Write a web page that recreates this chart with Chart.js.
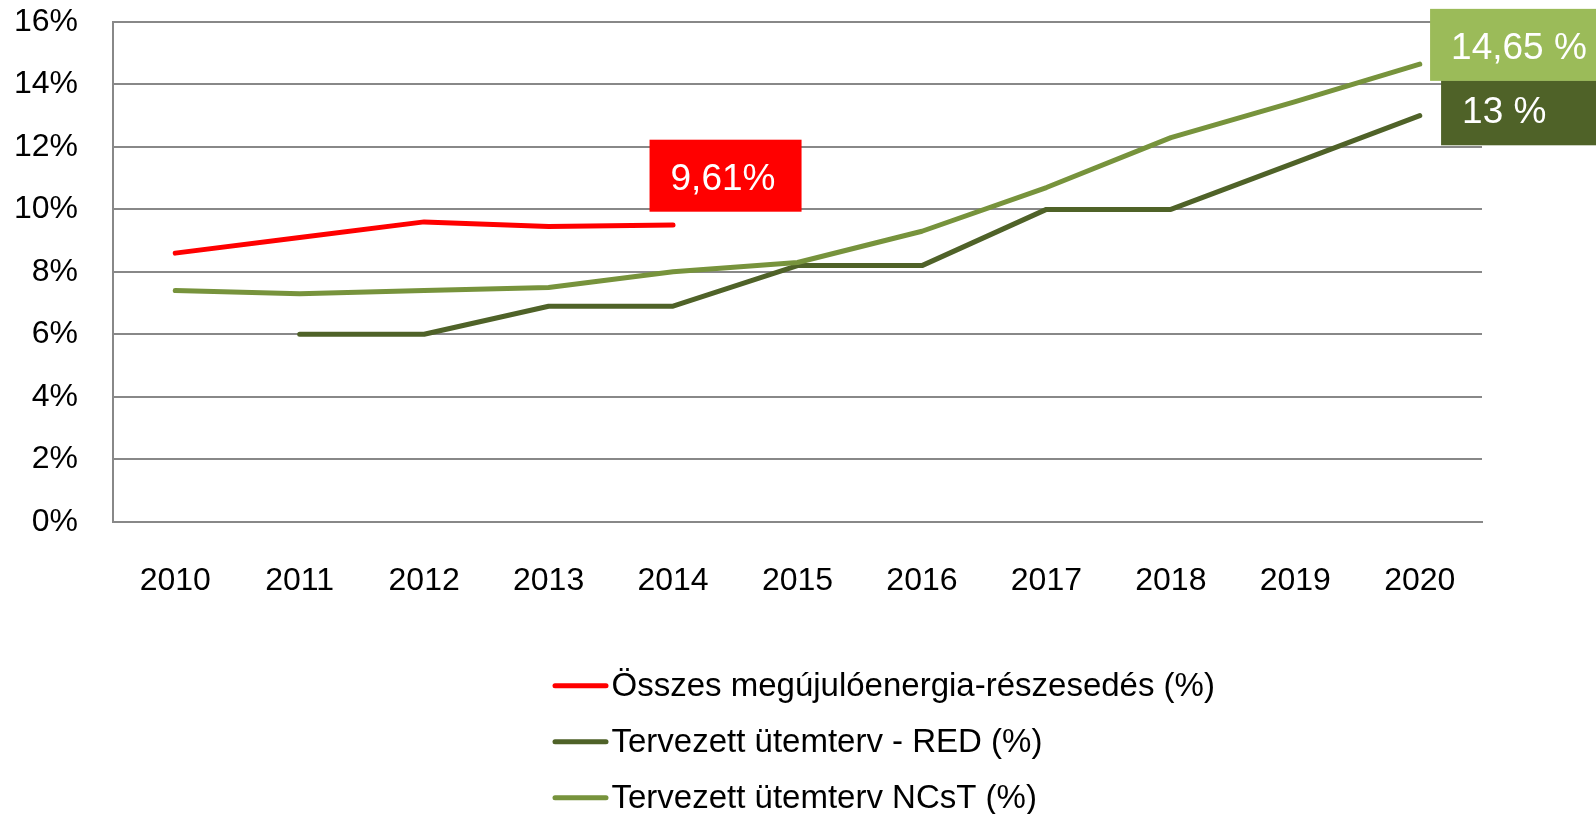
<!DOCTYPE html>
<html lang="hu">
<head>
<meta charset="utf-8">
<title>Megújuló energia részesedés</title>
<script src="https://cdn.jsdelivr.net/npm/chart.js@4.4.1/dist/chart.umd.min.js"></script>
<style>
  html, body { margin: 0; padding: 0; background: #fff; }
  #doboz { width: 1596px; height: 814px; }
</style>
</head>
<body>
<div id="doboz"><canvas id="grafikon" width="1596" height="814"></canvas></div>
<script>
// Adatok
const evek = ['2010', '2011', '2012', '2013', '2014', '2015', '2016', '2017', '2018', '2019', '2020'];
const osszesReszesedes = [8.6, 9.1, 9.6, 9.45, 9.5, null, null, null, null, null, null];
const utemtervRED = [null, 6.0, 6.0, 6.9, 6.9, 8.2, 8.2, 10.0, 10.0, 11.5, 13.0];
const utemtervNCsT = [7.4, 7.3, 7.4, 7.5, 8.0, 8.3, 9.3, 10.7, 12.3, 13.45, 14.65];
const yTickek = [0, 2, 4, 6, 8, 10, 12, 14, 16];
const sorozatNevek = ['Összes megújulóenergia-részesedés (%)', 'Tervezett ütemterv - RED (%)', 'Tervezett ütemterv NCsT (%)'];
const vegCimkek = ['9,61%', '13 %', '14,65 %'];

const szinek = ['#FF0000', '#4F6228', '#77933C'];
const cimkeHatter = ['#FF0000', '#4F6228', '#9BBB59'];
const betu = "'Liberation Sans', Arial, sans-serif";

Chart.defaults.font.family = betu;
Chart.defaults.color = '#000';

// Címkedobozok az utolsó pont mellett
const cimkeDobozok = {
  id: 'cimkeDobozok',
  afterDatasetsDraw(chart) {
    const ctx = chart.ctx;
    const eltolas = [
      { dx: -23.5, dy: -85.3, w: 152, h: 72, alap: 50 },
      { dx: 21.3, dy: -35.4, w: 155, h: 65, alap: 42.6 },
      { dx: 10.3, dy: -55.3, w: 166, h: 72, alap: 50 }
    ];
    [1, 2, 0].forEach(i => {
      const meta = chart.getDatasetMeta(i);
      const adat = chart.data.datasets[i].data;
      let utolso = adat.length - 1;
      while (utolso >= 0 && adat[utolso] == null) utolso--;
      const pont = meta.data[utolso];
      const e = eltolas[i];
      const bx = pont.x + e.dx;
      const by = pont.y + e.dy;
      ctx.save();
      ctx.fillStyle = cimkeHatter[i];
      ctx.fillRect(bx, by, e.w, e.h);
      ctx.fillStyle = '#fff';
      ctx.font = '37px ' + betu;
      ctx.textBaseline = 'alphabetic';
      ctx.textAlign = 'left';
      ctx.fillText(vegCimkek[i], bx + 21, by + e.alap);
      ctx.restore();
    });
  }
};

// Jelmagyarázat egymás alatt, balra igazítva
const jelmagyarazat = {
  id: 'jelmagyarazat',
  afterDraw(chart) {
    const ctx = chart.ctx;
    ctx.save();
    sorozatNevek.forEach((nev, i) => {
      const y = 685.7 + i * 56;
      ctx.strokeStyle = szinek[i];
      ctx.lineWidth = 5;
      ctx.lineCap = 'round';
      ctx.beginPath();
      ctx.moveTo(555, y);
      ctx.lineTo(606, y);
      ctx.stroke();
      ctx.fillStyle = '#000';
      ctx.font = '33px ' + betu;
      ctx.textBaseline = 'alphabetic';
      ctx.fillText(nev, 611.5, y + 10.5);
    });
    ctx.restore();
  }
};

function vonal(nev, adat, szin, sorrend) {
  return {
    label: nev,
    data: adat,
    borderColor: szin,
    backgroundColor: szin,
    borderWidth: 5,
    borderCapStyle: 'round',
    borderJoinStyle: 'round',
    pointRadius: 0,
    pointHoverRadius: 0,
    tension: 0,
    spanGaps: false,
    order: sorrend
  };
}

const ctx = document.getElementById('grafikon').getContext('2d');
const chart = new Chart(ctx, {
  type: 'line',
  data: {
    labels: evek,
    datasets: [
      vonal(sorozatNevek[0], osszesReszesedes, szinek[0], 2),
      vonal(sorozatNevek[1], utemtervRED, szinek[1], 1),
      vonal(sorozatNevek[2], utemtervNCsT, szinek[2], 0)
    ]
  },
  options: {
    responsive: false,
    animation: false,
    devicePixelRatio: 1,
    layout: { padding: { top: 22, right: 114, left: 0, bottom: 0 } },
    plugins: {
      legend: { display: false },
      tooltip: { enabled: false }
    },
    scales: {
      x: {
        type: 'category',
        offset: true,
        grid: { display: false, drawTicks: false },
        border: { display: true, color: '#888', width: 2 },
        ticks: { font: { size: 32 }, color: '#000', padding: 40, maxRotation: 0 },
        afterFit(scale) {
          scale.height = 292.3;
          scale.paddingLeft = 0;
          scale.paddingRight = 0;
        }
      },
      y: {
        min: 0,
        max: 16,
        afterBuildTicks(scale) { scale.ticks = yTickek.map(v => ({ value: v })); },
        grid: { color: '#888', lineWidth: 2, drawTicks: false },
        border: { display: true, color: '#888', width: 2 },
        ticks: {
          font: { size: 32 },
          color: '#000',
          padding: 35,
          callback: v => v + '%'
        },
        afterFit(scale) {
          scale.width = 113;
          scale.paddingTop = 0;
          scale.paddingBottom = 0;
        }
      }
    }
  },
  plugins: [cimkeDobozok, jelmagyarazat]
});
</script>
</body>
</html>
